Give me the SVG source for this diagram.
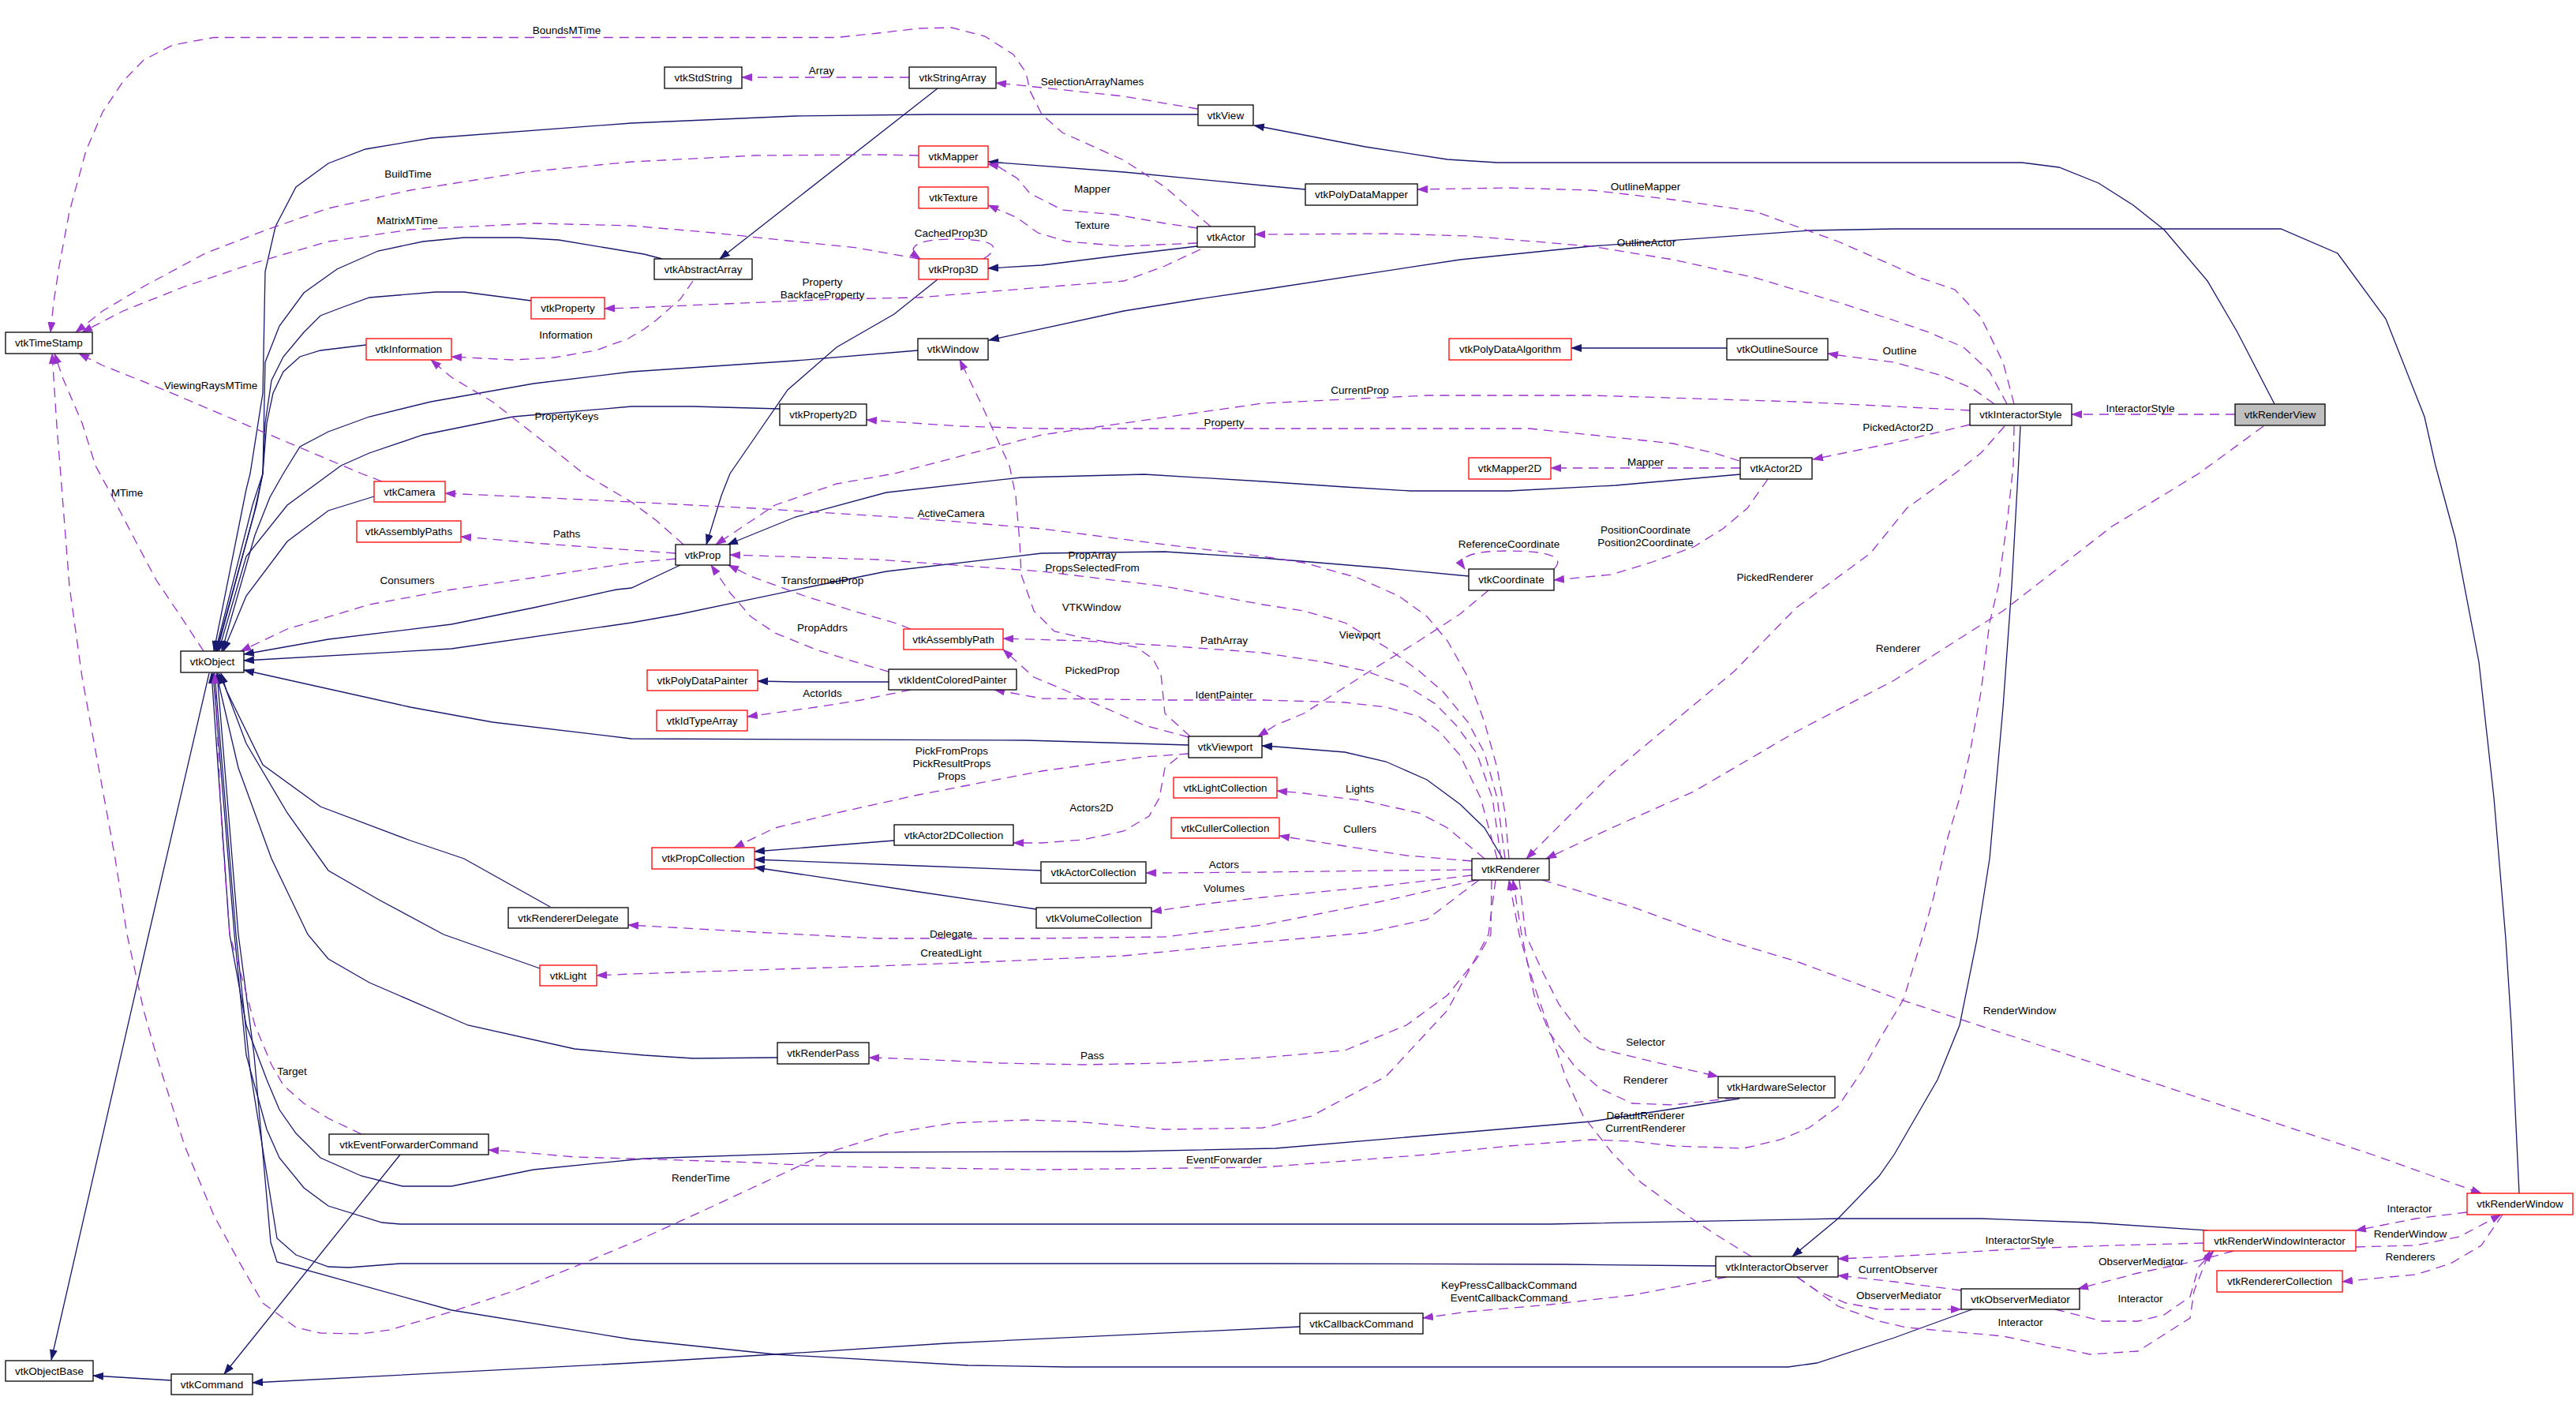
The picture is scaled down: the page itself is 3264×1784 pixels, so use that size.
<svg xmlns="http://www.w3.org/2000/svg" width="3264" height="1784" viewBox="0 0 3264 1784">
<defs>
<style>
.n rect{fill:#fff;stroke:#000;stroke-width:1.3}
.n.r rect{stroke:#f00}
.n.g rect{fill:#bfbfbf}
text{font-family:"Liberation Sans",Arial,sans-serif;font-size:13.5px;fill:#000}
.n text{text-anchor:middle}
.lb text{text-anchor:middle}
.s{fill:none;stroke:#191970;stroke-width:1.3;marker-end:url(#ab)}
.d{fill:none;stroke:#9a32cd;stroke-width:1.3;stroke-dasharray:12,8;marker-end:url(#ap)}
</style>
<marker id="ab" markerWidth="14" markerHeight="10" refX="13" refY="5" orient="auto" markerUnits="userSpaceOnUse"><path d="M0,0 L14,5 L0,10 z" fill="#191970"/></marker>
<marker id="ap" markerWidth="14" markerHeight="10" refX="13" refY="5" orient="auto" markerUnits="userSpaceOnUse"><path d="M0,0 L14,5 L0,10 z" fill="#9a32cd"/></marker>
</defs>
<rect x="0" y="0" width="3264" height="1784" fill="#fff"/>
<g id="edges">
<path class="s" d="M2882,512 L2835,421 L2797,356 L2742,291 L2703,260 L2659,232 L2609,212 L2562,206 L1897,206 L1834,202 L1730,186 L1600,161 L1589,159"/>
<path class="s" d="M3192,1512 L3182,1299 L3175,1190 L3160,1011 L3141,839 L3111,682 L3086,590 L3072,528 L3023,404 L2962,321 L2890,290 L2400,290 L2292,292 L2016,312 L1850,329 L1600,367 L1518,379 L1424,394 L1253,431"/>
<path class="s" d="M1654,240 L1600,235 L1424,218 L1252,205"/>
<path class="s" d="M1517,312 L1424,323 L1320,336 L1252,340"/>
<path class="s" d="M1188,112 L912,328"/>
<path class="s" d="M2188,441 L1991,441"/>
<path class="s" d="M1126,864 L1008,864 L960,863"/>
<path class="s" d="M1904,1088 L1881,1049 L1850,1019 L1808,988 L1756,965 L1704,953 L1616,946 L1599,945"/>
<path class="s" d="M1133,1065 L956,1079"/>
<path class="s" d="M1319,1103 L1164,1097 L956,1089"/>
<path class="s" d="M1313,1152 L1164,1130 L956,1099"/>
<path class="s" d="M2560,540 L2557,600 L2549,743 L2538,896 L2521,1088 L2505,1190 L2483,1299 L2455,1368 L2400,1463 L2381,1490 L2329,1544 L2271,1592"/>
<path class="s" d="M507,1463 L284,1741"/>
<path class="s" d="M217,1749 L118,1743"/>
<path class="s" d="M1647,1681 L1200,1702 L982,1716 L800,1727 L320,1752"/>
<path class="s" d="M2499,1659 L2400,1695 L2302,1727 L2266,1732 L1600,1732 L1352,1732 L1227,1730 L982,1716 L800,1697 L572,1660 L351,1599 L343,1574 L322,1337 L302,1184 L275,853"/>
<path class="s" d="M2174,1604 L1980,1602 L1600,1601 L507,1601 L442,1606 L416,1605 L375,1590 L351,1569 L317,1356 L299,1184 L272,853"/>
<path class="s" d="M2797,1559 L2648,1549 L2510,1544 L2329,1544 L1964,1551 L507,1551 L484,1549 L416,1528 L385,1505 L354,1467 L338,1431 L312,1337 L297,1184 L270,853"/>
<path class="s" d="M2204,1392 L2016,1421 L1616,1455 L1424,1459 L1050,1460 L816,1468 L676,1482 L572,1503 L510,1503 L458,1490 L406,1467 L375,1436 L354,1406 L338,1368 L312,1299 L291,1184 L268,853"/>
<path class="s" d="M985,1340 L878,1341 L816,1337 L728,1329 L593,1299 L468,1245 L416,1215 L390,1184 L344,1088 L302,973 L278,870 L275,853"/>
<path class="s" d="M684,1227 L562,1184 L480,1140 L416,1103 L364,1030 L312,942 L285,870 L277,853"/>
<path class="s" d="M697,1149 L588,1088 L520,1065 L406,1022 L333,969 L287,875 L280,853"/>
<path class="s" d="M265,853 L187,1190 L65,1723"/>
<path class="s" d="M1518,145 L1180,145 L1008,147 L800,156 L546,175 L463,189 L416,207 L375,237 L349,287 L336,344 L333,498 L317,600 L312,620 L271,825"/>
<path class="s" d="M839,328 L816,322 L708,304 L656,301 L588,301 L536,306 L479,318 L427,341 L385,371 L354,413 L336,459 L333,600 L320,640 L273,825"/>
<path class="s" d="M673,381 L588,370 L552,370 L468,377 L432,390 L406,400 L385,421 L359,452 L344,482 L336,536 L333,600 L325,640 L274,825"/>
<path class="s" d="M464,437 L406,444 L380,452 L359,471 L346,498 L338,536 L333,600 L322,650 L275,825"/>
<path class="s" d="M1163,444 L1008,457 L800,471 L676,486 L546,509 L468,528 L416,547 L380,566 L359,600 L342,630 L323,678 L281,825"/>
<path class="s" d="M988,518 L878,515 L800,515 L650,528 L536,551 L468,574 L432,590 L364,640 L312,705 L277,825"/>
<path class="s" d="M474,629 L416,647 L364,686 L312,755 L283,825"/>
<path class="s" d="M862,716 L800,745 L781,747 L676,770 L572,791 L416,810 L309,829"/>
<path class="s" d="M1861,730 L1756,720 L1600,707 L1476,699 L1320,701 L1123,724 L1029,743 L862,778 L800,789 L572,822 L309,837"/>
<path class="s" d="M1506,944 L1300,938 L800,936 L624,915 L520,896 L309,849"/>
<path class="s" d="M1188,354 L1133,398 L1060,440 L998,494 L956,555 L925,600 L914,628 L895,690"/>
<path class="s" d="M2205,601 L2047,615 L1912,622 L1787,622 L1704,617 L1600,610 L1450,601 L1294,605 L1123,624 L1008,655 L922,690"/>
<path class="d" d="M1152,98 L940,98"/>
<path class="d" d="M1518,138 L1424,122 L1320,111 L1262,105"/>
<path class="d" d="M1534,287 L1476,237 L1424,203 L1346,168 L1320,145 L1305,115 L1300,92 L1284,69 L1248,46 L1206,35 L1164,36 L1112,42 L1060,47.5 L800,47.5 L271,47.5 L219,57 L182,76 L156,103 L130,142 L109,191 L88,268 L75,337 L68,383 L64,421"/>
<path class="d" d="M1164,197 L1112,196 L956,197 L800,205 L666,218 L520,241 L416,264 L338,291 L260,321 L182,363 L130,394 L96,421"/>
<path class="d" d="M1164,328 L1086,314 L1008,306 L904,295 L800,286 L676,283 L520,291 L416,306 L323,333 L234,363 L156,394 L104,421"/>
<path class="d" d="M1517,289 L1476,283 L1414,272 L1346,266 L1305,245 L1289,226 L1263,210 L1252,208"/>
<path class="d" d="M1517,308 L1424,312 L1352,306 L1315,295 L1289,276 L1252,260"/>
<path class="d" d="M1246,328 C1272,312 1258,303 1206,303 C1160,303 1146,314 1166,328"/>
<path class="d" d="M1521,316 L1476,337 L1424,356 L1320,364 L1164,377 L1060,379 L800,390 L766,391"/>
<path class="d" d="M878,356 L862,379 L831,406 L816,417 L796,429 L755,444 L702,453 L650,456 L572,452"/>
<path class="d" d="M866,690 L831,659 L800,636 L739,600 L702,570 L624,509 L572,478 L546,456"/>
<path class="d" d="M484,610 L458,600 L323,543 L208,494 L130,463 L100,448"/>
<path class="d" d="M258,825 L229,781 L198,735 L172,686 L146,636 L121,590 L104,536 L80,480 L69,448"/>
<path class="d" d="M1895,1115 L1886,1184 L1834,1280 L1756,1364 L1662,1414 L1600,1429 L1476,1431 L1362,1421 L1300,1419 L1206,1423 L1123,1437 L1050,1460 L904,1528 L810,1571 L728,1605 L650,1636 L572,1662 L494,1685 L458,1690 L406,1689 L375,1682 L333,1651 L302,1597 L271,1540 L234,1452 L198,1337 L182,1280 L161,1184 L146,1088 L125,973 L104,858 L88,743 L76,590 L72,540 L66,448"/>
<path class="d" d="M856,708 L800,713 L676,732 L572,747 L468,766 L364,797 L305,825"/>
<path class="d" d="M856,701 L800,697 L676,688 L598,681 L584,680"/>
<path class="d" d="M1912,1088 L1907,1030 L1897,973 L1881,915 L1860,858 L1834,812 L1808,781 L1772,755 L1720,732 L1652,713 L1600,705 L1476,690 L1320,670 L1164,657 L956,644 L800,636 L676,630 L564,625"/>
<path class="d" d="M1907,1088 L1897,1011 L1881,954 L1860,915 L1829,877 L1798,850 L1756,820 L1704,789 L1652,774 L1600,766 L1476,743 L1320,724 L1112,709 L925,703"/>
<path class="d" d="M1902,1088 L1891,1011 L1871,954 L1845,919 L1819,892 L1782,869 L1730,850 L1678,839 L1600,827 L1476,818 L1372,812 L1271,809"/>
<path class="d" d="M1897,1088 L1876,1011 L1850,957 L1824,927 L1798,908 L1756,896 L1704,890 L1600,887 L1476,887 L1320,885 L1260,874"/>
<path class="d" d="M1154,797 L1133,789 L1081,774 L1019,755 L951,730 L923,716"/>
<path class="d" d="M1126,851 L1091,841 L1034,823 L982,802 L951,781 L925,751 L901,716"/>
<path class="d" d="M1154,874 L1091,887 L1034,896 L947,908"/>
<path class="d" d="M1506,934 L1450,919 L1398,896 L1346,873 L1310,858 L1289,839 L1271,823"/>
<path class="d" d="M1508,933 L1476,904 L1471,854 L1461,835 L1440,820 L1372,808 L1336,800 L1310,774 L1294,728 L1292,686 L1287,628 L1279,590 L1263,555 L1242,509 L1216,456"/>
<path class="d" d="M2496,520 L2400,515 L2276,509 L2016,501 L1808,501 L1600,511 L1320,551 L1133,600 L1060,613 L982,640 L907,690"/>
<path class="d" d="M2204,584 L2172,574 L2120,562 L2016,551 L1938,543 L1808,543 L1320,543 L1216,540 L1098,532"/>
<path class="d" d="M2205,593 L1965,593"/>
<path class="d" d="M2240,607 L2214,644 L2183,670 L2146,693 L2094,712 L2042,728 L1969,735"/>
<path class="d" d="M1969,721 C1985,705 1960,698 1912,698 C1865,698 1845,705 1856,721"/>
<path class="d" d="M1886,748 L1850,778 L1798,812 L1730,854 L1652,904 L1616,919 L1594,933"/>
<path class="d" d="M2540,540 L2510,574 L2477,600 L2416,644 L2370,701 L2276,770 L2198,850 L2120,915 L2042,980 L1938,1084 L1934,1088"/>
<path class="d" d="M2868,540 L2786,600 L2676,667 L2538,774 L2400,862 L2276,927 L2146,1003 L2042,1049 L1959,1088"/>
<path class="d" d="M2552,512 L2538,459 L2510,402 L2477,367 L2433,352 L2400,337 L2329,306 L2224,268 L2120,253 L2016,241 L1912,238 L1796,240"/>
<path class="d" d="M2543,512 L2521,471 L2488,440 L2444,421 L2400,406 L2329,383 L2224,352 L2120,329 L2016,312 L1860,299 L1756,296 L1600,297 L1590,297"/>
<path class="d" d="M2527,512 L2499,492 L2461,476 L2400,459 L2329,450 L2316,448"/>
<path class="d" d="M2496,538 L2400,561 L2297,582"/>
<path class="d" d="M2832,525 L2625,525"/>
<path class="d" d="M1506,955 L1450,959 L1320,977 L1164,1007 L1060,1030 L982,1049 L930,1074"/>
<path class="d" d="M1492,960 L1476,973 L1469,1011 L1456,1034 L1424,1053 L1372,1064 L1320,1068 L1284,1068"/>
<path class="d" d="M1881,1088 L1834,1049 L1798,1030 L1730,1015 L1652,1005 L1618,1002"/>
<path class="d" d="M1865,1091 L1782,1084 L1704,1072 L1652,1064 L1621,1059"/>
<path class="d" d="M1865,1102 L1756,1103 L1600,1105 L1476,1106 L1452,1106"/>
<path class="d" d="M1865,1109 L1756,1122 L1600,1137 L1529,1145 L1459,1155"/>
<path class="d" d="M1871,1115 L1756,1141 L1600,1172 L1476,1187 L1320,1189 L1112,1189 L956,1181 L796,1172"/>
<path class="d" d="M1874,1115 L1808,1165 L1730,1182 L1616,1192 L1424,1211 L1268,1218 L1112,1224 L956,1229 L800,1234 L756,1236"/>
<path class="d" d="M1890,1115 L1889,1184 L1871,1215 L1834,1261 L1782,1299 L1704,1331 L1600,1340 L1476,1347 L1372,1349 L1268,1347 L1164,1342 L1101,1340"/>
<path class="d" d="M1925,1115 L1933,1184 L1954,1230 L1975,1272 L2006,1314 L2027,1329 L2094,1345 L2177,1364"/>
<path class="d" d="M2198,1391 L2120,1400 L2068,1398 L2027,1379 L1996,1352 L1964,1310 L1944,1261 L1928,1184 L1917,1115"/>
<path class="d" d="M2219,1592 L2172,1563 L2120,1528 L2079,1498 L2042,1460 L2006,1414 L1985,1368 L1964,1307 L1944,1249 L1925,1184 L1912,1115"/>
<path class="d" d="M2552,540 L2551,590 L2544,655 L2532,743 L2521,789 L2510,877 L2496,954 L2483,1011 L2466,1068 L2450,1137 L2435,1190 L2412,1266 L2381,1318 L2360,1356 L2329,1402 L2292,1429 L2256,1444 L2209,1455 L2120,1452 L2068,1446 L2016,1444 L1912,1452 L1808,1463 L1704,1471 L1600,1479 L1320,1482 L1112,1479 L1029,1477 L956,1473 L800,1468 L728,1466 L650,1459 L619,1457"/>
<path class="d" d="M458,1437 L416,1417 L385,1398 L359,1375 L344,1349 L323,1299 L302,1222 L291,1184 L281,1049 L272,853"/>
<path class="d" d="M1954,1115 L2068,1149 L2172,1187 L2276,1218 L2400,1264 L2565,1318 L2786,1391 L3006,1463 L3144,1512"/>
<path class="d" d="M3126,1536 L3061,1544 L2985,1559"/>
<path class="d" d="M2985,1580 L3061,1578 L3116,1567 L3169,1539"/>
<path class="d" d="M3171,1539 L3144,1578 L3105,1601 L3061,1615 L3006,1620 L2968,1624"/>
<path class="d" d="M2792,1575 L2676,1578 L2565,1582 L2400,1592 L2329,1595"/>
<path class="d" d="M2485,1635 L2400,1624 L2329,1616"/>
<path class="d" d="M2277,1618 L2303,1636 L2339,1651 L2381,1659 L2416,1659 L2485,1659"/>
<path class="d" d="M2277,1618 L2329,1655 L2381,1674 L2416,1682 L2538,1693 L2648,1716 L2709,1712 L2775,1670 L2780,1636 L2800,1585"/>
<path class="d" d="M2604,1659 L2664,1674 L2709,1674 L2742,1666 L2775,1643 L2786,1605 L2805,1585"/>
<path class="d" d="M2830,1585 L2786,1597 L2709,1613 L2633,1633"/>
<path class="d" d="M2188,1618 L2068,1641 L1964,1653 L1860,1662 L1803,1670"/>
</g>
<g id="labels" class="lb">
<text x="718" y="43">BoundsMTime</text>
<text x="1041" y="94">Array</text>
<text x="1384" y="108">SelectionArrayNames</text>
<text x="517" y="225">BuildTime</text>
<text x="516" y="284">MatrixMTime</text>
<text x="1384" y="244">Mapper</text>
<text x="1384" y="290">Texture</text>
<text x="1205" y="300">CachedProp3D</text>
<text x="2085" y="241">OutlineMapper</text>
<text x="2086" y="312">OutlineActor</text>
<text x="1042" y="362">Property</text>
<text x="1042" y="378">BackfaceProperty</text>
<text x="717" y="429">Information</text>
<text x="2407" y="449">Outline</text>
<text x="267" y="493">ViewingRaysMTime</text>
<text x="1723" y="499">CurrentProp</text>
<text x="2712" y="522">InteractorStyle</text>
<text x="718" y="532">PropertyKeys</text>
<text x="1551" y="540">Property</text>
<text x="2405" y="546">PickedActor2D</text>
<text x="2085" y="590">Mapper</text>
<text x="161" y="629">MTime</text>
<text x="1205" y="655">ActiveCamera</text>
<text x="2085" y="676">PositionCoordinate</text>
<text x="2085" y="692">Position2Coordinate</text>
<text x="718" y="681">Paths</text>
<text x="1912" y="694">ReferenceCoordinate</text>
<text x="1384" y="708">PropArray</text>
<text x="1384" y="724">PropsSelectedFrom</text>
<text x="2249" y="736">PickedRenderer</text>
<text x="1042" y="740">TransformedProp</text>
<text x="516" y="740">Consumers</text>
<text x="1383" y="774">VTKWindow</text>
<text x="1042" y="800">PropAddrs</text>
<text x="1723" y="809">Viewport</text>
<text x="1551" y="816">PathArray</text>
<text x="2405" y="826">Renderer</text>
<text x="1384" y="854">PickedProp</text>
<text x="1042" y="883">ActorIds</text>
<text x="1551" y="885">IdentPainter</text>
<text x="1206" y="956">PickFromProps</text>
<text x="1206" y="972">PickResultProps</text>
<text x="1206" y="988">Props</text>
<text x="1723" y="1004">Lights</text>
<text x="1383" y="1028">Actors2D</text>
<text x="1723" y="1055">Cullers</text>
<text x="1551" y="1100">Actors</text>
<text x="1551" y="1130">Volumes</text>
<text x="1205" y="1188">Delegate</text>
<text x="1205" y="1212">CreatedLight</text>
<text x="2559" y="1285">RenderWindow</text>
<text x="2085" y="1325">Selector</text>
<text x="1384" y="1342">Pass</text>
<text x="370" y="1362">Target</text>
<text x="2085" y="1373">Renderer</text>
<text x="2085" y="1418">DefaultRenderer</text>
<text x="2085" y="1434">CurrentRenderer</text>
<text x="1551" y="1474">EventForwarder</text>
<text x="888" y="1497">RenderTime</text>
<text x="3053" y="1536">Interactor</text>
<text x="3054" y="1568">RenderWindow</text>
<text x="2559" y="1576">InteractorStyle</text>
<text x="3054" y="1597">Renderers</text>
<text x="2713" y="1603">ObserverMediator</text>
<text x="2405" y="1613">CurrentObserver</text>
<text x="1912" y="1633">KeyPressCallbackCommand</text>
<text x="1912" y="1649">EventCallbackCommand</text>
<text x="2406" y="1646">ObserverMediator</text>
<text x="2712" y="1650">Interactor</text>
<text x="2560" y="1680">Interactor</text>
</g>
<g id="vtkRenderView" class="n g"><rect x="2832" y="512" width="114" height="27"/><text x="2889" y="530">vtkRenderView</text></g>
<g id="vtkView" class="n"><rect x="1518" y="133" width="70" height="26"/><text x="1553" y="151">vtkView</text></g>
<g id="vtkObject" class="n"><rect x="229" y="825" width="80" height="27"/><text x="269" y="843">vtkObject</text></g>
<g id="vtkObjectBase" class="n"><rect x="7" y="1724" width="111" height="26"/><text x="62.5" y="1742">vtkObjectBase</text></g>
<g id="vtkCommand" class="n"><rect x="217" y="1741" width="103" height="26"/><text x="268.5" y="1759">vtkCommand</text></g>
<g id="vtkEventForwarderCommand" class="n"><rect x="417" y="1437" width="202" height="26"/><text x="518" y="1455">vtkEventForwarderCommand</text></g>
<g id="vtkCallbackCommand" class="n"><rect x="1647" y="1664" width="156" height="26"/><text x="1725" y="1682">vtkCallbackCommand</text></g>
<g id="vtkTimeStamp" class="n"><rect x="7" y="421" width="110" height="27"/><text x="62" y="439">vtkTimeStamp</text></g>
<g id="vtkStdString" class="n"><rect x="842" y="85" width="98" height="27"/><text x="891" y="103">vtkStdString</text></g>
<g id="vtkStringArray" class="n"><rect x="1152" y="85" width="110" height="27"/><text x="1207" y="103">vtkStringArray</text></g>
<g id="vtkAbstractArray" class="n"><rect x="829" y="328" width="124" height="26"/><text x="891" y="346">vtkAbstractArray</text></g>
<g id="vtkInformation" class="n r"><rect x="464" y="429" width="108" height="27"/><text x="518" y="447">vtkInformation</text></g>
<g id="vtkProperty" class="n r"><rect x="673" y="377" width="93" height="27"/><text x="719.5" y="395">vtkProperty</text></g>
<g id="vtkMapper" class="n r"><rect x="1164" y="185" width="88" height="27"/><text x="1208" y="203">vtkMapper</text></g>
<g id="vtkTexture" class="n r"><rect x="1164" y="237" width="88" height="27"/><text x="1208" y="255">vtkTexture</text></g>
<g id="vtkProp3D" class="n r"><rect x="1164" y="328" width="88" height="26"/><text x="1208" y="346">vtkProp3D</text></g>
<g id="vtkActor" class="n"><rect x="1517" y="287" width="73" height="26"/><text x="1553.5" y="305">vtkActor</text></g>
<g id="vtkPolyDataMapper" class="n"><rect x="1654" y="233" width="142" height="27"/><text x="1725" y="251">vtkPolyDataMapper</text></g>
<g id="vtkWindow" class="n"><rect x="1163" y="429" width="89" height="27"/><text x="1207.5" y="447">vtkWindow</text></g>
<g id="vtkProperty2D" class="n"><rect x="988" y="512" width="110" height="27"/><text x="1043" y="530">vtkProperty2D</text></g>
<g id="vtkPolyDataAlgorithm" class="n r"><rect x="1836" y="429" width="155" height="27"/><text x="1913.5" y="447">vtkPolyDataAlgorithm</text></g>
<g id="vtkOutlineSource" class="n"><rect x="2188" y="429" width="128" height="27"/><text x="2252" y="447">vtkOutlineSource</text></g>
<g id="vtkInteractorStyle" class="n"><rect x="2496" y="512" width="129" height="27"/><text x="2560.5" y="530">vtkInteractorStyle</text></g>
<g id="vtkMapper2D" class="n r"><rect x="1861" y="580" width="104" height="27"/><text x="1913" y="598">vtkMapper2D</text></g>
<g id="vtkActor2D" class="n"><rect x="2205" y="580" width="91" height="27"/><text x="2250.5" y="598">vtkActor2D</text></g>
<g id="vtkCamera" class="n r"><rect x="474" y="610" width="90" height="26"/><text x="519" y="628">vtkCamera</text></g>
<g id="vtkAssemblyPaths" class="n r"><rect x="452" y="660" width="132" height="27"/><text x="518" y="678">vtkAssemblyPaths</text></g>
<g id="vtkProp" class="n"><rect x="856" y="690" width="69" height="26"/><text x="890.5" y="708">vtkProp</text></g>
<g id="vtkCoordinate" class="n"><rect x="1861" y="721" width="108" height="27"/><text x="1915" y="739">vtkCoordinate</text></g>
<g id="vtkAssemblyPath" class="n r"><rect x="1145" y="797" width="126" height="26"/><text x="1208" y="815">vtkAssemblyPath</text></g>
<g id="vtkPolyDataPainter" class="n r"><rect x="820" y="849" width="140" height="26"/><text x="890" y="867">vtkPolyDataPainter</text></g>
<g id="vtkIdentColoredPainter" class="n"><rect x="1126" y="848" width="162" height="26"/><text x="1207" y="866">vtkIdentColoredPainter</text></g>
<g id="vtkIdTypeArray" class="n r"><rect x="832" y="900" width="115" height="26"/><text x="889.5" y="918">vtkIdTypeArray</text></g>
<g id="vtkViewport" class="n"><rect x="1506" y="933" width="93" height="27"/><text x="1552.5" y="951">vtkViewport</text></g>
<g id="vtkLightCollection" class="n r"><rect x="1487" y="985" width="131" height="26"/><text x="1552.5" y="1003">vtkLightCollection</text></g>
<g id="vtkCullerCollection" class="n r"><rect x="1484" y="1036" width="137" height="26"/><text x="1552.5" y="1054">vtkCullerCollection</text></g>
<g id="vtkActor2DCollection" class="n"><rect x="1133" y="1045" width="151" height="26"/><text x="1208.5" y="1063">vtkActor2DCollection</text></g>
<g id="vtkPropCollection" class="n r"><rect x="826" y="1074" width="130" height="27"/><text x="891" y="1092">vtkPropCollection</text></g>
<g id="vtkActorCollection" class="n"><rect x="1319" y="1092" width="133" height="27"/><text x="1385.5" y="1110">vtkActorCollection</text></g>
<g id="vtkRenderer" class="n"><rect x="1865" y="1088" width="98" height="27"/><text x="1914" y="1106">vtkRenderer</text></g>
<g id="vtkVolumeCollection" class="n"><rect x="1313" y="1150" width="146" height="26"/><text x="1386" y="1168">vtkVolumeCollection</text></g>
<g id="vtkRendererDelegate" class="n"><rect x="644" y="1150" width="152" height="26"/><text x="720" y="1168">vtkRendererDelegate</text></g>
<g id="vtkLight" class="n r"><rect x="684" y="1223" width="72" height="26"/><text x="720" y="1241">vtkLight</text></g>
<g id="vtkRenderPass" class="n"><rect x="985" y="1321" width="116" height="27"/><text x="1043" y="1339">vtkRenderPass</text></g>
<g id="vtkHardwareSelector" class="n"><rect x="2177" y="1364" width="148" height="27"/><text x="2251" y="1382">vtkHardwareSelector</text></g>
<g id="vtkRenderWindow" class="n r"><rect x="3126" y="1512" width="134" height="27"/><text x="3193" y="1530">vtkRenderWindow</text></g>
<g id="vtkRenderWindowInteractor" class="n r"><rect x="2792" y="1559" width="193" height="26"/><text x="2888.5" y="1577">vtkRenderWindowInteractor</text></g>
<g id="vtkInteractorObserver" class="n"><rect x="2174" y="1592" width="155" height="26"/><text x="2251.5" y="1610">vtkInteractorObserver</text></g>
<g id="vtkRendererCollection" class="n r"><rect x="2809" y="1610" width="159" height="27"/><text x="2888.5" y="1628">vtkRendererCollection</text></g>
<g id="vtkObserverMediator" class="n"><rect x="2485" y="1633" width="150" height="26"/><text x="2560" y="1651">vtkObserverMediator</text></g>
</svg>
